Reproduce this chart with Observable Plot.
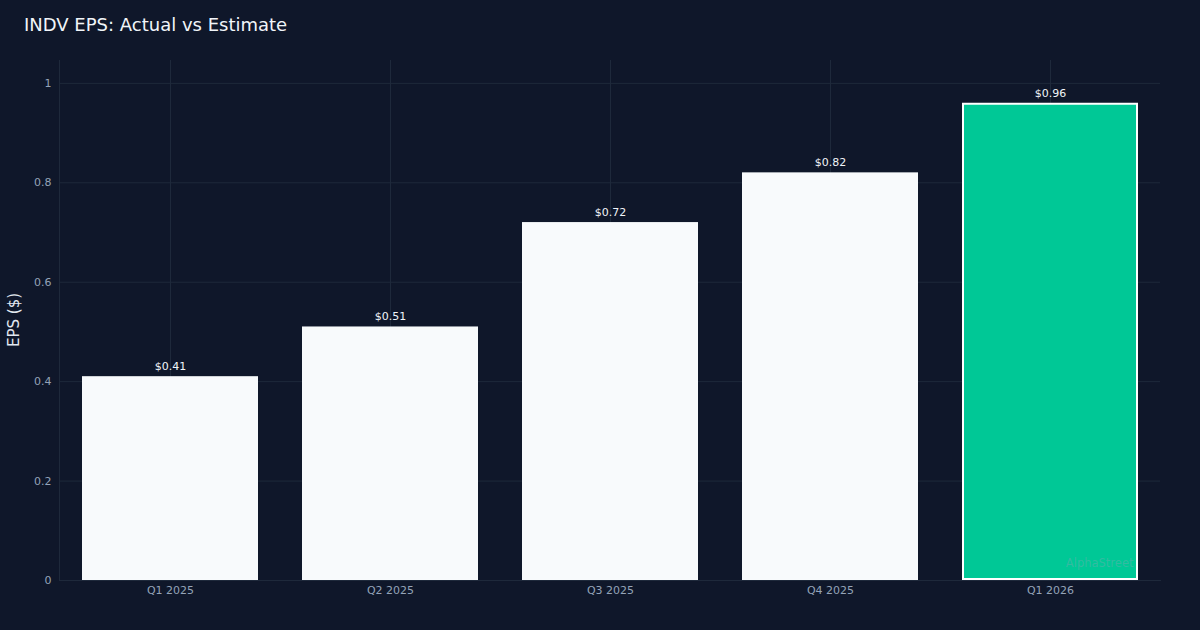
<!DOCTYPE html>
<html>
<head>
<meta charset="utf-8">
<script src="https://cdn.jsdelivr.net/npm/d3@7"></script>
<script src="https://cdn.jsdelivr.net/npm/@observablehq/plot@0.6"></script>
<style>
  html, body { margin: 0; padding: 0; background: #0f172a; }
  #wrap { position: relative; width: 1200px; height: 630px; background: #0f172a; font-family: "DejaVu Sans", sans-serif; overflow: hidden; }
  #title { position: absolute; left: 24px; top: 14px; font-size: 18px; color: #f1f5f9; }
  #chart { position: absolute; left: 0; top: 50px; }
  #ylabel { position: absolute; left: 14px; top: 320px; transform: translate(-50%, -50%) rotate(-90deg); font-size: 15px; color: #e2e8f0; white-space: nowrap; }
</style>
</head>
<body>
<div id="wrap">
  <div id="title">INDV EPS: Actual vs Estimate</div>
  <div id="ylabel">EPS ($)</div>
  <div id="chart"></div>
</div>
<script>
const quarters = ["Q1 2025", "Q2 2025", "Q3 2025", "Q4 2025", "Q1 2026"];
const eps = [0.41, 0.51, 0.72, 0.82, 0.96];
const highlight = [false, false, false, false, true];
const yTicks = [0, 0.2, 0.4, 0.6, 0.8, 1];

const data = quarters.map((q, i) => ({q, v: eps[i], hi: highlight[i]}));

const chart = Plot.plot({
  width: 1200,
  height: 580,
  marginTop: 10,
  marginBottom: 50,
  marginLeft: 59,
  marginRight: 40,
  style: {background: "transparent", fontFamily: "DejaVu Sans, sans-serif", fontSize: "11px"},
  x: {domain: quarters, paddingInner: 0.2, paddingOuter: 0.1, label: null},
  y: {domain: [0, 1.046], label: null},
  marks: [
    Plot.gridY(yTicks, {stroke: "#1e293b", strokeOpacity: 1, strokeWidth: 1}),
    Plot.gridX(quarters, {stroke: "#1e293b", strokeOpacity: 1, strokeWidth: 1}),
    Plot.axisY(yTicks, {tickSize: 0, tickPadding: 8, fill: "#94a3b8", label: null, tickFormat: d => String(d)}),
    Plot.axisX({tickSize: 0, tickPadding: 6, fill: "#94a3b8", label: null}),
    Plot.frame({anchor: "left", stroke: "#1e293b"}),
    Plot.frame({anchor: "bottom", stroke: "#1e293b"}),
    Plot.barY(data.filter(d => !d.hi), {x: "q", y: "v", fill: "#f8fafc"}),
    Plot.barY(data.filter(d => d.hi), {x: "q", y: "v", fill: "#00c896", stroke: "#ffffff", strokeWidth: 2, inset: 1}),
    Plot.text(data, {x: "q", y: "v", text: d => "$" + d.v.toFixed(2), dy: -10, fill: "#f1f5f9", fontSize: 11}),
    Plot.text(["AlphaStreet"], {frameAnchor: "bottom-right", dx: -27, dy: -14, fill: "#94a3b8", fillOpacity: 0.35, fontSize: 11.5, textAnchor: "end"})
  ]
});
document.getElementById("chart").appendChild(chart);
</script>
</body>
</html>
